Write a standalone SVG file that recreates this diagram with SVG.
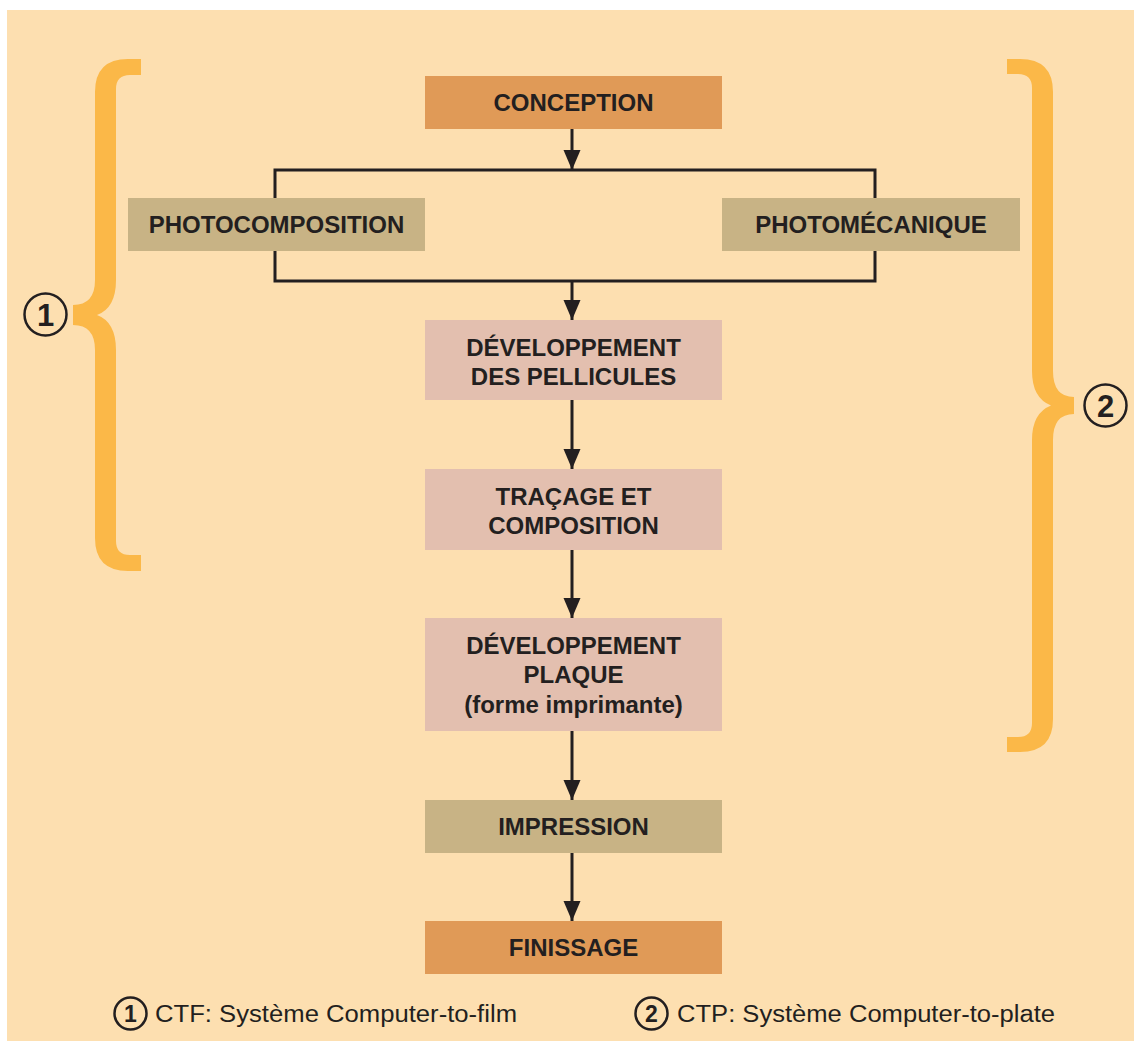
<svg xmlns="http://www.w3.org/2000/svg" width="1134" height="1041" viewBox="0 0 1134 1041">
  <style>
    .bg { fill: #FDDFB0; }
    .orange { fill: #E09A57; }
    .tan { fill: #C8B385; }
    .pink { fill: #E3BFAF; }
    .brace { fill: #FBB848; }
    .lbl { font-family: "Liberation Sans", Arial, Helvetica, sans-serif; font-weight: bold; font-size: 24px; fill: #231F20; text-anchor: middle; }
    .legend { font-family: "Liberation Sans", Arial, Helvetica, sans-serif; font-size: 23px; fill: #231F20; }
    .num { font-family: "Liberation Sans", Arial, Helvetica, sans-serif; font-weight: bold; fill: #231F20; text-anchor: middle; }
    .ring { fill: none; stroke: #231F20; stroke-width: 2.5; }
    .wire { fill: none; stroke: #231F20; stroke-width: 3; }
    .arrow { fill: none; stroke: #231F20; stroke-width: 3; marker-end: url(#head); }
  </style>
  <defs>
    <marker id="head" markerUnits="userSpaceOnUse" viewBox="0 -9 20 18" refX="20" refY="0" markerWidth="20" markerHeight="18" orient="auto">
      <path d="M0,-8.5 L20,0 L0,8.5 Z" fill="#231F20"/>
    </marker>
  </defs>

  <!-- background panel -->
  <rect class="bg" x="7" y="10" width="1127" height="1031"/>

  <!-- brace 1 (CTF range) -->
  <g id="brace-ctf">
    <path class="brace" d="M141,59 L128,59 Q95,59 95,92 L95,280 Q95,305 73,305 L73,325 Q95,325 95,350 L95,538 Q95,571 128,571 L141,571 L141,555 L130,555 Q116,555 116,541 L116,350 Q116,322 97,315 Q116,308 116,280 L116,89 Q116,75 130,75 L141,75 Z"/>
    <circle class="ring" cx="45.5" cy="314.5" r="21"/>
    <text class="num" x="45.5" y="326" font-size="31">1</text>
  </g>

  <!-- brace 2 (CTP range) -->
  <g id="brace-ctp">
    <path class="brace" d="M1007,59 L1020,59 Q1053,59 1053,92 L1053,371 Q1053,397 1074,397 L1074,414 Q1053,414 1053,440 L1053,719 Q1053,752 1020,752 L1007,752 L1007,737 L1018,737 Q1032,737 1032,723 L1032,440 Q1032,413 1051,405.5 Q1032,398 1032,371 L1032,88 Q1032,74 1018,74 L1007,74 Z"/>
    <circle class="ring" cx="1105.5" cy="405.5" r="21"/>
    <text class="num" x="1105.5" y="417" font-size="31">2</text>
  </g>

  <!-- connectors -->
  <g id="connectors">
    <line class="arrow" x1="572" y1="129" x2="572" y2="170"/>
    <path class="wire" d="M275,198 L275,170 L875,170 L875,198"/>
    <path class="wire" d="M275,251 L275,281 L875,281 L875,251"/>
    <line class="arrow" x1="572" y1="281" x2="572" y2="320"/>
    <line class="arrow" x1="572" y1="400" x2="572" y2="469"/>
    <line class="arrow" x1="572" y1="550" x2="572" y2="618"/>
    <line class="arrow" x1="572" y1="731" x2="572" y2="800"/>
    <line class="arrow" x1="572" y1="853" x2="572" y2="921"/>
  </g>

  <!-- process steps -->
  <g id="conception">
    <rect class="orange" x="425" y="76" width="297" height="53"/>
    <text class="lbl" x="573.5" y="111">CONCEPTION</text>
  </g>
  <g id="photocomposition">
    <rect class="tan" x="128" y="198" width="297" height="53"/>
    <text class="lbl" x="276.5" y="233">PHOTOCOMPOSITION</text>
  </g>
  <g id="photomecanique">
    <rect class="tan" x="722" y="198" width="298" height="53"/>
    <text class="lbl" x="871" y="233">PHOTOMÉCANIQUE</text>
  </g>
  <g id="developpement-pellicules">
    <rect class="pink" x="425" y="320" width="297" height="80"/>
    <text class="lbl" x="573.5" y="356">DÉVELOPPEMENT</text>
    <text class="lbl" x="573.5" y="385">DES PELLICULES</text>
  </g>
  <g id="tracage-composition">
    <rect class="pink" x="425" y="469" width="297" height="81"/>
    <text class="lbl" x="573.5" y="505">TRAÇAGE ET</text>
    <text class="lbl" x="573.5" y="534">COMPOSITION</text>
  </g>
  <g id="developpement-plaque">
    <rect class="pink" x="425" y="618" width="297" height="113"/>
    <text class="lbl" x="573.5" y="654">DÉVELOPPEMENT</text>
    <text class="lbl" x="573.5" y="683">PLAQUE</text>
    <text class="lbl" x="573.5" y="713">(forme imprimante)</text>
  </g>
  <g id="impression">
    <rect class="tan" x="425" y="800" width="297" height="53"/>
    <text class="lbl" x="573.5" y="835">IMPRESSION</text>
  </g>
  <g id="finissage">
    <rect class="orange" x="425" y="921" width="297" height="53"/>
    <text class="lbl" x="573.5" y="956">FINISSAGE</text>
  </g>

  <!-- legend -->
  <g id="legend">
    <circle class="ring" cx="130.5" cy="1013.5" r="16"/>
    <text class="num" x="130.5" y="1022" font-size="23">1</text>
    <text class="legend" x="155" y="1022" textLength="362" lengthAdjust="spacingAndGlyphs">CTF: Système Computer-to-film</text>
    <circle class="ring" cx="651.5" cy="1013.5" r="16"/>
    <text class="num" x="651.5" y="1022" font-size="23">2</text>
    <text class="legend" x="677" y="1022" textLength="378" lengthAdjust="spacingAndGlyphs">CTP: Système Computer-to-plate</text>
  </g>
</svg>
